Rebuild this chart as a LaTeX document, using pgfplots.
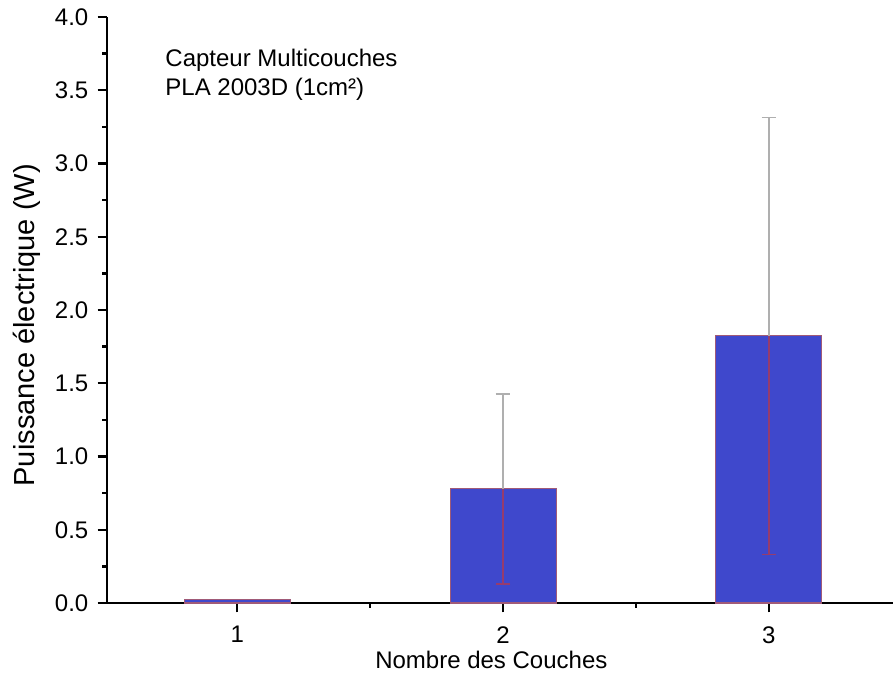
\documentclass[border=0pt]{standalone}
\usepackage{pgfplots}
\pgfplotsset{compat=1.18}
\usepackage{fontspec}
\setmainfont{Liberation Sans}
\definecolor{barblue}{RGB}{63,72,204}
\definecolor{baredge}{RGB}{160,90,120}
\definecolor{errgray}{RGB}{175,175,175}
\definecolor{errin}{RGB}{150,60,110}
\begin{document}
\begin{tikzpicture}
\begin{axis}[
  at={(0,0)}, anchor=south west,
  scale only axis, width=589.5pt, height=439.5pt,
  xmin=0.51, xmax=3.467, ymin=0, ymax=4,
  axis lines=left,
  x axis line style={-, line width=2.2pt},
  y axis line style={-, line width=2.2pt},
  tick align=outside,
  xtick={1,2,3}, minor x tick num=1,
  ytick={0,0.5,...,4}, minor y tick num=1,
  major tick length=7pt, minor tick length=3.5pt,
  major tick style={black, line width=1.8pt},
  minor tick style={black, line width=1.8pt},
  /pgf/number format/assume math mode=true,
  /pgf/number format/fixed,
  yticklabel style={/pgf/number format/fixed zerofill, /pgf/number format/precision=1, xshift=-3.5pt},
  xticklabel style={yshift=-7pt},
  tick label style={font=\fontsize{18}{20}\selectfont},
  xlabel={Nombre des Couches},
  ylabel={Puissance électrique (W)},
  xlabel style={font=\fontsize{18}{20}\selectfont, at={(axis description cs:0.489,-0.097)}, anchor=center},
  ylabel style={font=\fontsize{21.75}{24}\selectfont, at={(axis description cs:-0.102,0.474)}, anchor=center},
  clip=false,
]
\addplot[ybar, bar width=79.5pt, bar shift=0pt, fill=barblue, draw=baredge, line width=0.8pt]
  coordinates {(1,0.027) (2,0.78) (3,1.825)};
\addplot[draw=none, mark=none, forget plot,
  error bars/.cd, y dir=plus, y explicit,
  error bar style={draw=errgray, line width=1.2pt},
  error mark=-,
  error mark options={rotate=90, draw=errgray, line width=1.2pt, mark size=5.5pt}]
  coordinates {(2,0.78) +- (0,0.645) (3,1.825) +- (0,1.49)};
\addplot[draw=none, mark=none, forget plot,
  error bars/.cd, y dir=minus, y explicit,
  error bar style={draw=errin, line width=1.2pt},
  error mark=-,
  error mark options={rotate=90, draw=errin, line width=1.2pt, mark size=5.5pt}]
  coordinates {(2,0.78) +- (0,0.65) (3,1.825) +- (0,1.495)};
\node[anchor=north west, align=left, font=\fontsize{18}{21.75}\selectfont, inner sep=0pt]
  at (axis description cs:0.074,0.946) {Capteur Multicouches\\PLA 2003D (1cm²)};
\end{axis}
\pgfresetboundingbox
\useasboundingbox (-80.25pt,-52.5pt) rectangle (590.25pt,452.25pt);
\end{tikzpicture}
\end{document}
